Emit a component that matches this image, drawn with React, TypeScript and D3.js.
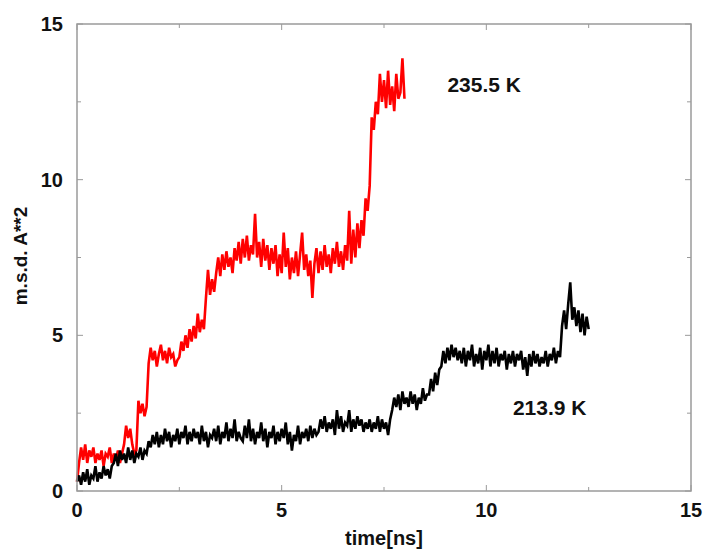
import React from "react";
import * as d3 from "d3";

// time step of the sampled traces (ns)
const STEP = 0.05;

// m.s.d. (A**2) at 235.5 K, sampled every 0.05 ns from 0 to 8 ns
const red235 = [
  0.3, 0.9, 1.4,
  1.0, 1.5, 0.9, 1.3, 1.1, 1.4, 0.9, 1.2, 1.0, 1.3, 0.8, 1.2, 1.1, 1.4, 0.9, 1.2, 1.0, 1.3, 0.9, 1.2,
  1.5, 2.1, 1.7, 2.0, 1.5, 1.2, 1.3,
  2.9, 2.5, 2.8, 2.4, 2.7,
  4.1, 4.6, 4.2, 4.5, 4.0, 4.4, 4.7, 4.2, 4.5, 4.1, 4.6, 4.3, 4.4, 4.0, 4.2,
  4.3, 4.8, 4.5, 5.0, 4.6, 5.2, 4.8, 5.3, 4.9, 5.7, 5.1, 5.5, 5.2,
  6.2, 7.1, 6.3, 6.8, 6.4,
  7.0, 7.5, 6.9, 7.6, 7.1, 7.7, 7.2, 7.5, 7.0, 7.8,
  7.4, 8.0, 7.3, 8.1, 7.5, 8.2, 7.4, 7.9, 7.6, 8.9, 7.5, 8.0, 7.2, 8.1, 7.4, 7.9, 7.1, 7.8, 7.3, 7.9,
  6.9, 7.6, 7.0, 8.3, 7.2, 7.8, 6.8, 7.5, 7.0, 7.7, 6.9, 7.6, 8.3, 7.1, 7.6, 6.9, 7.4, 6.2, 7.3, 7.8,
  7.0, 7.7, 7.1, 7.9, 7.2, 7.6, 7.0, 7.8, 7.3, 8.0, 7.2, 7.7, 7.1, 7.9,
  7.4, 9.0, 7.3, 8.4, 7.5, 8.6, 7.8, 8.7, 8.2, 9.4, 9.0,
  9.8, 12.0, 11.6, 12.5, 12.1, 13.4, 12.5, 13.2, 12.3, 13.5, 12.4, 13.0, 12.2, 13.4, 12.6, 12.8, 13.9, 12.6,
];

// m.s.d. (A**2) at 213.9 K, sampled every 0.05 ns from 0 to 12.5 ns
const black213 = [
  0.3, 0.5, 0.2, 0.6, 0.3, 0.7, 0.2, 0.5, 0.4, 0.8, 0.3, 0.6, 0.4, 0.8, 0.5, 0.7, 0.4, 0.8,
  0.9, 1.2, 0.8, 1.3, 1.0, 1.2, 0.9, 1.4, 1.0, 1.3, 0.9, 1.2, 1.1, 1.4, 1.0, 1.3,
  1.2, 1.6, 1.4, 1.8,
  1.5, 1.9, 1.4, 1.8, 1.5, 2.0, 1.6, 1.9, 1.4, 1.8, 1.6, 2.0, 1.5, 1.9, 1.7, 2.1, 1.5, 1.9, 1.6, 2.0,
  1.7, 1.9, 1.5, 2.1, 1.6, 1.9, 1.4, 1.8, 1.7, 2.0, 1.6, 2.1, 1.5, 1.9, 1.7, 2.2, 1.6, 2.0, 1.7, 2.3,
  1.6, 1.9, 1.7,
  1.6, 2.1, 1.7, 2.3, 1.6, 2.0, 1.5, 1.9, 1.7, 2.2, 1.6, 2.0, 1.4, 1.9, 1.7, 2.1, 1.5, 1.9, 1.6, 2.0,
  1.7, 2.2, 1.5, 1.9, 1.3, 1.8, 1.6, 2.1, 1.5, 1.9, 1.7, 2.0, 1.6, 2.1, 1.7, 2.0, 1.8,
  1.9, 2.3, 2.0, 2.4, 1.9, 2.2, 2.0, 2.3, 1.8, 2.6, 2.0, 2.4, 1.9, 2.2, 2.1, 2.6, 1.9, 2.3, 2.0, 2.4,
  2.1, 2.3, 1.9, 2.2, 2.0, 2.3, 1.9, 2.2, 2.0, 2.4, 1.9, 2.3, 2.0, 2.2, 1.8, 2.3,
  2.6, 3.0, 2.7, 3.1, 2.6, 3.2, 2.8, 3.0, 2.7, 3.2, 2.8, 3.1, 2.6, 3.0, 2.8, 3.3, 2.9, 3.1,
  3.1, 3.6, 3.2, 3.8, 3.4, 3.9,
  4.0, 4.5, 4.1, 4.6, 4.2, 4.7, 4.3, 4.6, 4.2, 4.5,
  4.1, 4.6, 4.0, 4.5, 4.2, 4.7, 4.0, 4.4, 4.1, 4.6, 3.9, 4.5, 4.2, 4.7, 4.0, 4.5, 4.1, 4.6, 4.0, 4.4,
  4.2, 4.5, 3.9, 4.4, 4.1, 4.5, 4.0, 4.4, 4.2, 4.5, 3.9, 4.3, 3.7, 4.4, 4.0, 4.5, 4.1, 4.4, 4.0, 4.3,
  4.1, 4.5, 4.0, 4.4, 4.2, 4.6, 4.1, 4.5, 4.3,
  5.3, 5.8, 5.2, 6.0, 6.7, 5.5, 5.9, 5.3, 5.8, 5.1, 5.7, 5.0, 5.6, 5.2,
];

const xMajorTicks = [0, 5, 10, 15];
const xMinorTicks = [2.5, 7.5, 12.5];
const yMajorTicks = [0, 5, 10, 15];
const yMinorTicks = [2.5, 7.5, 12.5];

const seriesLabels = [
  { text: "235.5 K", t: 9.05, v: 12.8 },
  { text: "213.9 K", t: 10.65, v: 2.45 },
];

const W = 705;
const H = 550;
const margin = { left: 77, right: 14, top: 24, bottom: 59 };

export default function App() {
  const x = d3.scaleLinear().domain([0, 15]).range([margin.left, W - margin.right]);
  const y = d3.scaleLinear().domain([0, 15]).range([H - margin.bottom, margin.top]);

  const line = d3
    .line<number>()
    .x((_, i) => x(i * STEP))
    .y((d) => y(d));

  const x0 = x(0), x1 = x(15), y0 = y(0), y1 = y(15);
  const frame = "#9a9a9a";
  const font = "Arial, 'Liberation Sans', sans-serif";

  return (
    <svg
      width={W}
      height={H}
      style={{ position: "absolute", left: 0, top: 0, background: "#fff" }}
    >
      <rect x={0} y={0} width={W} height={H} fill="#fff" />
      {/* curves */}
      <path d={line(red235) || ""} fill="none" stroke="#ff0000" strokeWidth={2.6} strokeLinejoin="miter" strokeMiterlimit={3} />
      <path d={line(black213) || ""} fill="none" stroke="#000" strokeWidth={2.6} strokeLinejoin="miter" strokeMiterlimit={3} />

      {/* frame */}
      <rect x={x0} y={y1} width={x1 - x0} height={y0 - y1} fill="none" stroke={frame} strokeWidth={1.5} />

      {/* ticks */}
      {xMajorTicks.concat(xMinorTicks).map((t) => {
        const len = xMajorTicks.includes(t) ? 6 : 4;
        return (
          <g key={"xt" + t} stroke={frame} strokeWidth={1}>
            <line x1={x(t)} x2={x(t)} y1={y0} y2={y0 - len} />
            <line x1={x(t)} x2={x(t)} y1={y1} y2={y1 + len} />
          </g>
        );
      })}
      {yMajorTicks.concat(yMinorTicks).map((v) => {
        const len = yMajorTicks.includes(v) ? 6 : 4;
        return (
          <g key={"yt" + v} stroke={frame} strokeWidth={1}>
            <line x1={x0} x2={x0 + len} y1={y(v)} y2={y(v)} />
            <line x1={x1} x2={x1 - len} y1={y(v)} y2={y(v)} />
          </g>
        );
      })}

      {/* tick labels */}
      {xMajorTicks.map((t) => (
        <text key={"xl" + t} x={x(t)} y={517} textAnchor="middle" fontFamily={font} fontWeight="bold" fontSize={20} fill="#111">
          {t}
        </text>
      ))}
      {yMajorTicks.map((v) => (
        <text key={"yl" + v} x={63} y={y(v) + 7} textAnchor="end" fontFamily={font} fontWeight="bold" fontSize={20} fill="#111">
          {v}
        </text>
      ))}

      {/* axis titles */}
      <text x={384} y={545} textAnchor="middle" fontFamily={font} fontWeight="bold" fontSize={20} fill="#111">
        time[ns]
      </text>
      <text
        transform={`translate(27, 256) rotate(-90)`}
        textAnchor="middle"
        fontFamily={font}
        fontWeight="bold"
        fontSize={19}
        fill="#111"
      >
        m.s.d. A**2
      </text>

      {/* series labels */}
      {seriesLabels.map((s) => (
        <text key={s.text} x={x(s.t)} y={y(s.v)} fontFamily={font} fontWeight="bold" fontSize={21} fill="#111">
          {s.text}
        </text>
      ))}
    </svg>
  );
}
